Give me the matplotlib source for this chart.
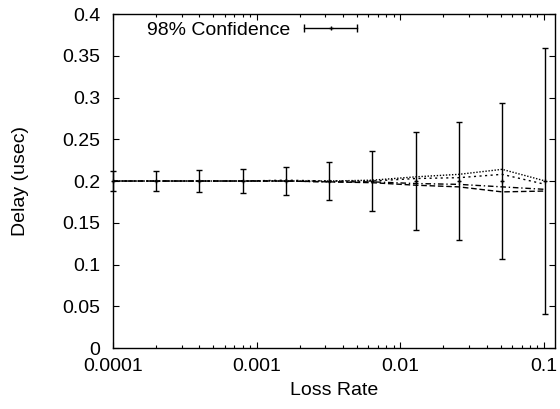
import matplotlib
matplotlib.use("Agg")
import matplotlib.pyplot as plt
from matplotlib.lines import Line2D
from matplotlib.legend_handler import HandlerLine2D, HandlerTuple

plt.rcParams['font.family'] = ['Liberation Sans', 'DejaVu Sans']
plt.rcParams['font.size'] = 14

# loss rates (x) and measured delays
loss = [0.0001, 0.0002, 0.0004, 0.0008, 0.0016, 0.0032, 0.0064, 0.0128, 0.0256, 0.0512, 0.1024]
delay_mean = [0.2, 0.2, 0.2, 0.2, 0.2, 0.2, 0.2, 0.2, 0.2, 0.2, 0.2]
delay_err = [0.012, 0.012, 0.0128, 0.014, 0.0164, 0.023, 0.036, 0.059, 0.071, 0.093, 0.159]

run_a = [0.2, 0.2, 0.2, 0.2, 0.2, 0.2, 0.201, 0.205, 0.208, 0.214, 0.200]
run_b = [0.2, 0.2, 0.2, 0.2, 0.201, 0.200, 0.200, 0.203, 0.204, 0.208, 0.196]
run_c = [0.2, 0.2, 0.2, 0.2, 0.2, 0.199, 0.199, 0.197, 0.196, 0.193, 0.190]
run_d = [0.2, 0.2, 0.2, 0.2, 0.2, 0.199, 0.198, 0.195, 0.193, 0.187, 0.188]

yticks = [0, 0.05, 0.1, 0.15, 0.2, 0.25, 0.3, 0.35, 0.4]
ytick_labels = ['0', '0.05', '0.1', '0.15', '0.2', '0.25', '0.3', '0.35', '0.4']
xticks = [0.0001, 0.001, 0.01, 0.1]
xtick_labels = ['0.0001', '0.001', '0.01', '0.1']

fig = plt.figure(figsize=(5.6, 4.09), dpi=100)
ax = fig.add_axes([0.2018, 0.1491, 0.7884, 0.8166])

ax.plot(loss, run_a, color='black', lw=1, linestyle=(0, (1, 1.2)))
ax.plot(loss, run_b, color='black', lw=1, linestyle=(0, (1.5, 2.5)))
ax.plot(loss, run_c, color='black', lw=1, linestyle=(0, (4, 2, 1, 2)))
ax.plot(loss, run_d, color='black', lw=1, linestyle=(0, (4, 2)))

ax.errorbar(loss, delay_mean, yerr=delay_err, fmt='+', color='black',
            ms=3, mew=1, elinewidth=1, capsize=2.2, capthick=1, clip_on=False, zorder=5)

ax.set_xscale('log')
ax.set_xlim(0.0001, 0.1187)
ax.set_ylim(0, 0.4)
ax.set_xticks(xticks)
ax.set_xticklabels(xtick_labels)
ax.set_yticks(yticks)
ax.set_yticklabels(ytick_labels)

ax.tick_params(which='both', direction='in', top=True, right=True, width=0.8)
ax.tick_params(which='major', length=4.5)
ax.tick_params(which='minor', length=2.5)
ax.tick_params(axis='x', which='major', pad=7)
ax.tick_params(axis='y', which='major', pad=9)
for s in ax.spines.values():
    s.set_linewidth(1)

ax.set_xlabel('Loss Rate', va='center')
ax.xaxis.set_label_coords(0.5, -0.126)
ax.set_ylabel('Delay (usec)', va='center')
ax.yaxis.set_label_coords(-0.2106, 0.5)

# gnuplot-like key sample: line with end caps and a centre point
caps = Line2D([], [], color='black', lw=1, marker='|', ms=6, mew=1)
centre = Line2D([], [], color='black', lw=0, marker='+', ms=3, mew=1)
ax.legend([(caps, centre)], ['98% Confidence'], markerfirst=False, frameon=False,
          loc='center left', bbox_to_anchor=(147 / 560, 1 - 30 / 409),
          bbox_transform=fig.transFigure, borderpad=0, borderaxespad=0,
          handlelength=2.7, handletextpad=0.72,
          handler_map={tuple: HandlerTuple(ndivide=1),
                       caps: HandlerLine2D(numpoints=2, marker_pad=0),
                       centre: HandlerLine2D(numpoints=1)})

fig.savefig('out.png', dpi=100)
